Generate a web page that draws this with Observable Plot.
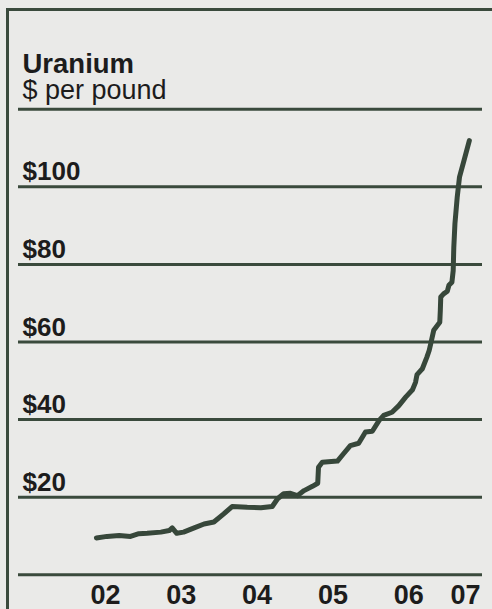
<!DOCTYPE html>
<html>
<head>
<meta charset="utf-8">
<script src="https://cdn.jsdelivr.net/npm/d3@7"></script>
<script src="https://cdn.jsdelivr.net/npm/@observablehq/plot@0.6"></script>
<style>
  html, body { margin: 0; padding: 0; background: #eaeae8; }
  #wrap { position: relative; width: 492px; height: 609px; overflow: hidden; background: #eaeae8; }
  #frame { position: absolute; left: 6px; top: 8px; width: 490px; height: 605px;
           border-top: 3.5px solid #3a4a3c; border-left: 3.5px solid #3a4a3c; box-sizing: border-box; }
  #chart { position: absolute; left: 0; top: 0; }
</style>
</head>
<body>
<div id="wrap"><div id="frame"></div><div id="chart"></div></div>
<script>
// Data (decimal year, $ per pound)
const dates = [2002.38, 2002.52, 2002.68, 2002.83, 2002.94, 2003.05, 2003.23, 2003.34, 2003.38, 2003.44,
  2003.53, 2003.67, 2003.80, 2003.93, 2004.06, 2004.17, 2004.37, 2004.55, 2004.70, 2004.77,
  2004.85, 2004.94, 2005.03, 2005.12, 2005.23, 2005.30, 2005.31, 2005.36, 2005.56, 2005.64,
  2005.73, 2005.84, 2005.89, 2005.93, 2006.02, 2006.11, 2006.17, 2006.28, 2006.37, 2006.46,
  2006.55, 2006.59, 2006.61, 2006.68, 2006.74, 2006.77, 2006.79, 2006.83, 2006.88, 2006.91,
  2006.917, 2006.923, 2006.96, 2007.01, 2007.03, 2007.07, 2007.087, 2007.095, 2007.11, 2007.14,
  2007.17, 2007.23, 2007.30];
const prices = [9.5, 9.9, 10.1, 9.9, 10.6, 10.7, 11.0, 11.4, 12.1, 10.7,
  11.0, 12.1, 13.1, 13.6, 15.7, 17.6, 17.4, 17.3, 17.6, 19.6,
  20.9, 21.0, 20.4, 21.7, 22.8, 23.6, 27.7, 29.0, 29.3, 31.2,
  33.3, 33.9, 35.5, 36.8, 37.0, 39.8, 41.1, 41.9, 43.6, 45.8,
  47.7, 49.6, 51.6, 53.1, 56.1, 57.8, 59.5, 63.0, 64.3, 65.1,
  68.1, 71.6, 72.4, 73.1, 74.6, 75.4, 78.4, 84.4, 90.5, 97.3,
  102.5, 106.8, 111.9];
const gridValues = [0, 20, 40, 60, 80, 100, 120];
const yLabelValues = [20, 40, 60, 80, 100];
const xTickPositions = [2002.5, 2003.5, 2004.5, 2005.5, 2006.5, 2007.25];
const xTickLabels = ["02", "03", "04", "05", "06", "07"];
const title = "Uranium";
const subtitle = "$ per pound";

const data = dates.map((d, i) => ({date: d, price: prices[i]}));
const ink = "#3a4a3c";
const text = "#1c1c1c";
const font = "'Liberation Sans', Arial, Helvetica, sans-serif";

const chart = Plot.plot({
  width: 492,
  height: 609,
  marginLeft: 18,
  marginRight: 10,
  marginTop: 0,
  marginBottom: 0,
  style: {background: "transparent", fontFamily: font, overflow: "visible"},
  x: {domain: [2002, 2007.5], range: [67.1, 484], axis: null},
  y: {domain: [0, 120], range: [574.3, 108.7], axis: null},
  marks: [
    Plot.ruleY(gridValues, {stroke: ink, strokeWidth: 3}),
    Plot.line(data, {x: "date", y: "price", stroke: "#37473a", strokeWidth: 5, strokeLinejoin: "round"}),
    Plot.text(yLabelValues, {y: d => d, text: d => "$" + d, frameAnchor: "left", textAnchor: "start",
      lineAnchor: "bottom", dx: 4, dy: -6.5, fontSize: 26, fontWeight: "bold", fill: text}),
    Plot.text(xTickPositions, {x: d => d, text: (d, i) => xTickLabels[i], frameAnchor: "bottom",
      lineAnchor: "bottom", dy: -5.5, fontSize: 27, fontWeight: "bold", fill: text}),
    Plot.text([title], {frameAnchor: "top-left", textAnchor: "start", lineAnchor: "bottom",
      dx: 4, dy: 72, fontSize: 27.5, fontWeight: "bold", fill: text}),
    Plot.text([subtitle], {frameAnchor: "top-left", textAnchor: "start", lineAnchor: "bottom",
      dx: 4, dy: 98.5, fontSize: 27, fill: text})
  ]
});
document.getElementById("chart").appendChild(chart);
</script>
</body>
</html>
